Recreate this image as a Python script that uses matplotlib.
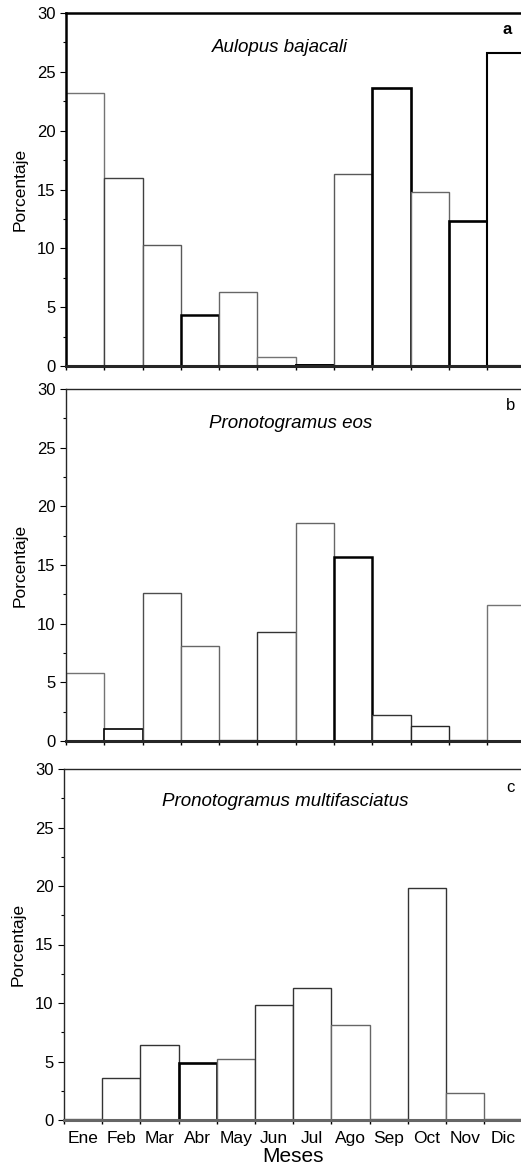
import matplotlib
matplotlib.use("Agg")
import matplotlib.pyplot as plt
from matplotlib.ticker import MultipleLocator
import numpy as np

plt.rcParams['font.family'] = ['Liberation Sans', 'DejaVu Sans']

meses = ["Ene", "Feb", "Mar", "Abr", "May", "Jun", "Jul", "Ago", "Sep", "Oct", "Nov", "Dic"]
aulopus_bajacali = [23.2, 16.0, 10.3, 4.3, 6.3, 0.75, 0.1, 16.3, 23.6, 14.8, 12.3, 26.6]
pronotogramus_eos = [5.8, 1.05, 12.6, 8.1, 0.1, 9.3, 18.6, 15.7, 2.2, 1.25, 0.1, 11.6]
pronotogramus_multifasciatus = [0.05, 3.6, 6.4, 4.9, 5.2, 9.85, 11.25, 8.15, 0.1, 19.8, 2.3, 0.05]
especies = ["Aulopus bajacali", "Pronotogramus eos", "Pronotogramus multifasciatus"]
paneles = ["a", "b", "c"]

# edge styles (style only)
edges = [
    ['0.45', '0.25', '0.35', 'k', '0.4', '0.45', 'k', '0.35', 'k', '0.4', 'k', 'k'],
    ['0.45', 'k', '0.3', '0.4', '0.45', '0.2', '0.4', 'k', '0.2', '0.15', '0.45', '0.45'],
    ['0.45', '0.2', '0.2', 'k', '0.4', '0.2', '0.2', '0.4', '0.45', '0.2', '0.4', '0.45'],
]
lws = [
    [1.0, 1.0, 1.0, 1.8, 1.0, 1.0, 1.4, 1.0, 1.9, 1.0, 1.9, 1.5],
    [1.0, 1.2, 1.0, 1.0, 1.0, 1.0, 1.0, 1.8, 1.0, 1.0, 1.0, 1.0],
    [1.0, 1.0, 1.0, 1.9, 1.0, 1.0, 1.0, 1.0, 1.0, 1.0, 1.0, 1.0],
]

W, H = 521, 1170
fig = plt.figure(figsize=(W / 100, H / 100), dpi=100)

# (left px, top px, bottom px, right xlim)
layout = [
    (66, 13, 366, 11.38),
    (66, 389, 741, 11.38),
    (64, 769, 1120, 11.46),
]
title_pos = [(280, 48), (291, 423), (285, 801)]
label_pos = [(507, 29), (511, 406), (510, 787)]
datos = [aulopus_bajacali, pronotogramus_eos, pronotogramus_multifasciatus]

x = np.arange(len(meses))
for i, (vals, (lpx, tpx, bpx, xr)) in enumerate(zip(datos, layout)):
    ax = fig.add_axes([lpx / W, 1 - bpx / H, (W - lpx) / W, (bpx - tpx) / H])
    ax.bar(x, vals, width=1.0, facecolor='white', edgecolor=edges[i], linewidth=lws[i], zorder=2)
    ax.set_xlim(-0.5, xr)
    ax.set_ylim(0, 30)
    ax.spines['right'].set_visible(False)
    ax.spines['top'].set_linewidth(1.8 if i == 0 else 1.0)
    ax.spines['top'].set_color('k' if i == 0 else '0.15')
    ax.spines['left'].set_linewidth(1.8 if i == 0 else 1.0)
    ax.spines['left'].set_color('k' if i == 0 else '0.15')
    ax.spines['bottom'].set_linewidth(2.2)
    ax.spines['bottom'].set_color('0.15' if i < 2 else '0.4')
    ax.spines['bottom'].set_zorder(3)
    ax.yaxis.set_major_locator(MultipleLocator(5))
    ax.yaxis.set_minor_locator(MultipleLocator(2.5))
    ax.tick_params(axis='y', which='major', direction='out', length=4.5, width=0.8, labelsize=12, pad=3)
    ax.tick_params(axis='y', which='minor', direction='out', length=2.5, width=0.8)
    ax.set_xticks(np.append(x[:-1] - 0.5, 10.5))
    ax.set_xticklabels([])
    ax.tick_params(axis='x', which='major', direction='out', length=3, width=1.0)
    if i == 2:
        ax.set_xticks(x, meses, minor=True)
        ax.tick_params(axis='x', which='minor', length=0, labelsize=12.5, pad=8)
        ax.set_xlabel("Meses", fontsize=15, labelpad=1)
    ax.set_ylabel("Porcentaje", fontsize=12.5, labelpad=7)
    tx, ty = title_pos[i]
    fig.text(tx / W, 1 - ty / H, especies[i], style='italic', fontsize=13.5, ha='center', va='center')
    px, py = label_pos[i]
    fig.text(px / W, 1 - py / H, paneles[i], fontsize=12, ha='center', va='center',
             fontweight='bold' if i == 0 else 'normal')

fig.savefig("out.png", dpi=100)
